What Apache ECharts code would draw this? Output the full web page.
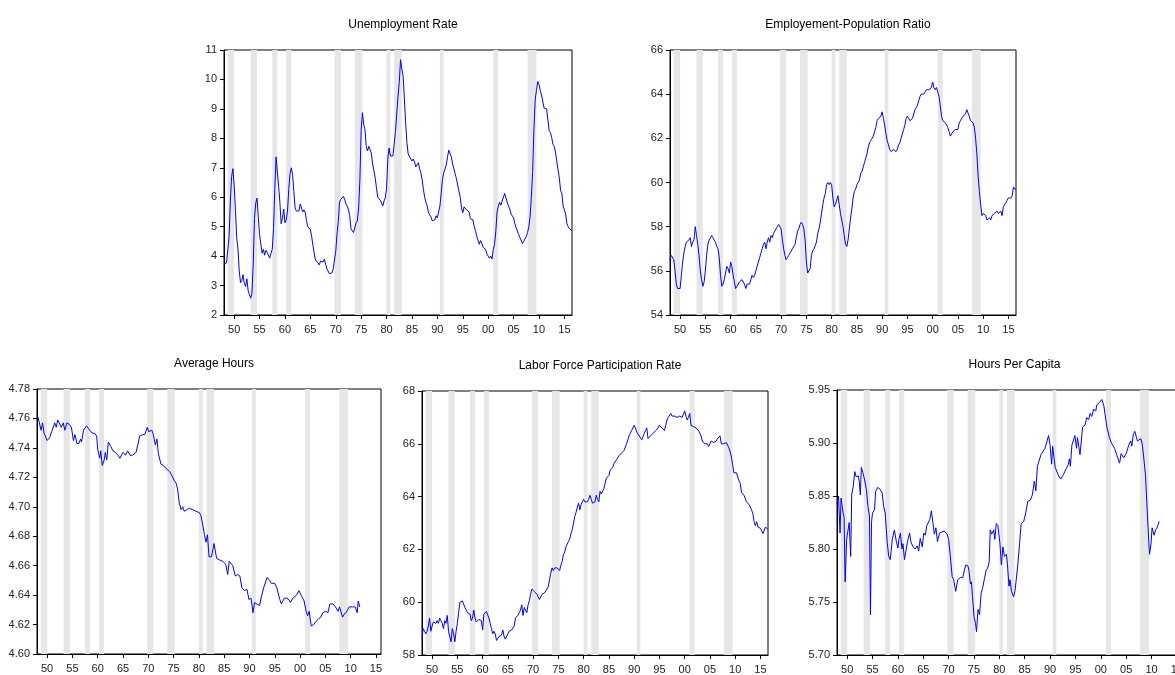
<!DOCTYPE html>
<html>
<head>
<meta charset="utf-8">
<script src="https://cdn.jsdelivr.net/npm/echarts@6/dist/echarts.min.js"></script>
<style>
  html, body { margin: 0; padding: 0; background: #fff; }
  #chart { width: 1175px; height: 675px; }
</style>
</head>
<body>
<div id="chart"></div>
<script>
// quarterly series, first value = 1948Q1
const unemploymentRate = [
  3.73,3.67,3.77,3.83, 4.67,5.87,6.70,6.97, 6.40,5.57,4.63,4.23, 3.50,3.10,3.17,3.37,
  3.07,2.97,3.23,2.83, 2.70,2.57,2.73,3.70, 5.27,5.80,5.97,5.33, 4.73,4.40,4.10,4.23,
  4.03,4.20,4.13,4.13, 3.93,4.10,4.23,4.93, 6.30,7.37,7.33,6.37, 5.83,5.10,5.27,5.60,
  5.13,5.23,5.53,6.27, 6.80,7.00,6.77,6.20, 5.63,5.53,5.57,5.53, 5.77,5.73,5.50,5.57,
  5.47,5.20,5.00,4.97, 4.90,4.67,4.37,4.10, 3.87,3.83,3.77,3.70, 3.83,3.83,3.80,3.90,
  3.73,3.57,3.53,3.40, 3.40,3.43,3.57,3.57, 4.17,4.77,5.17,5.83, 5.93,5.90,6.03,5.93,
  5.77,5.70,5.57,5.37, 4.93,4.93,4.80,4.77, 5.13,5.20,5.63,6.60, 8.27,8.87,8.47,8.30,
  7.73,7.57,7.73,7.77, 7.50,7.13,6.90,6.67, 6.33,6.00,6.03,5.90, 5.87,5.70,5.87,5.97,
  6.30,7.33,7.67,7.40, 7.43,7.40,7.40,8.23, 8.83,9.43,9.90,10.67, 10.37,10.13,9.37,8.53,
  7.87,7.47,7.43,7.30, 7.23,7.30,7.20,7.03, 7.03,7.17,6.97,6.83, 6.60,6.27,6.00,5.83,
  5.70,5.47,5.47,5.33, 5.20,5.23,5.23,5.37, 5.30,5.33,5.70,6.13, 6.60,6.83,6.87,7.10,
  7.37,7.60,7.63,7.37, 7.13,7.07,6.80,6.63, 6.57,6.20,6.00,5.63, 5.47,5.67,5.67,5.57,
  5.53,5.50,5.27,5.33, 5.23,5.00,4.87,4.67, 4.63,4.40,4.53,4.43, 4.30,4.27,4.23,4.07,
  4.03,3.93,4.00,3.90, 4.23,4.40,4.83,5.50, 5.70,5.83,5.73,5.87, 5.87,6.13,6.13,5.83,
  5.70,5.60,5.43,5.43, 5.30,5.10,4.97,4.97, 4.73,4.63,4.63,4.43, 4.50,4.47,4.67,4.80,
  5.00,5.33,6.00,6.87, 8.27,9.30,9.63,9.93, 9.83,9.63,9.47,9.50, 9.03,9.07,9.00,8.63,
  8.27,8.20,8.03,7.80, 7.73,7.53,7.23,6.93, 6.67,6.23,6.13,5.70, 5.57,5.43,5.10,5.00,
  4.93,4.87,4.87
];

const employmentPopRatio = [
  56.5,56.7,56.7,56.5, 56.0,55.4,55.2,55.2, 55.2,55.8,56.4,56.8, 57.1,57.3,57.3,57.4,
  57.5,57.1,57.3,57.4, 58.0,57.6,57.2,56.7, 56.0,55.6,55.3,55.5, 56.0,56.7,57.2,57.4,
  57.5,57.6,57.5,57.4, 57.3,57.1,57.0,56.6, 55.8,55.3,55.4,55.6, 55.9,56.2,56.1,55.9,
  56.4,56.2,55.8,55.5, 55.2,55.3,55.3,55.5, 55.5,55.6,55.6,55.4, 55.2,55.4,55.4,55.4,
  55.6,55.8,55.7,55.8, 56.0,56.2,56.4,56.6, 56.8,57.0,57.2,57.3, 57.0,57.3,57.5,57.3,
  57.6,57.5,57.7,57.8, 57.9,58.0,58.1,58.1, 57.9,57.4,57.0,56.7, 56.5,56.6,56.7,56.8,
  56.9,57.0,57.0,57.2, 57.5,57.8,57.9,58.1, 58.2,58.1,57.9,57.4, 56.4,55.9,56.0,56.1,
  56.7,56.9,57.0,57.0, 57.3,57.7,57.9,58.2, 58.6,59.0,59.3,59.5, 59.9,60.0,59.9,60.0,
  59.9,59.3,58.9,59.0, 59.2,59.4,59.0,58.6, 58.3,58.0,57.6,57.2, 57.1,57.4,57.9,58.4,
  58.8,59.3,59.6,59.7, 59.9,60.0,60.1,60.4, 60.5,60.7,60.9,61.1, 61.3,61.6,61.8,61.9,
  62.0,62.1,62.3,62.5, 62.8,62.9,62.9,63.0, 63.2,62.9,62.6,62.2, 61.9,61.7,61.5,61.4,
  61.4,61.5,61.5,61.4, 61.5,61.7,61.8,62.0, 62.2,62.4,62.6,62.9, 63.0,62.9,62.8,62.8,
  62.9,63.1,63.3,63.4, 63.5,63.7,63.9,64.0, 64.0,64.0,64.1,64.2, 64.2,64.2,64.2,64.3,
  64.55,64.3,64.2,64.3, 64.3,63.9,63.5,63.0, 62.8,62.8,62.7,62.6, 62.5,62.3,62.1,62.2,
  62.3,62.3,62.4,62.4, 62.4,62.7,62.8,62.8, 63.0,63.0,63.1,63.3, 63.3,63.0,62.8,62.8,
  62.7,62.5,62.0,61.3, 60.3,59.6,59.0,58.5, 58.6,58.6,58.5,58.3, 58.3,58.4,58.3,58.5,
  58.5,58.6,58.6,58.7, 58.6,58.6,58.7,58.5, 58.9,59.0,59.1,59.2, 59.3,59.3,59.3,59.4,
  59.8,59.7,59.7
];

const participationRate = [
  58.7,59.0,58.9,58.8, 58.9,59.1,59.4,58.9, 59.1,59.25,59.3,59.2, 59.3,59.2,59.4,59.3,
  59.2,59.0,59.3,59.2, 59.5,58.9,58.7,58.5, 59.0,58.8,58.5,58.9, 59.2,59.6,60.0,60.0,
  60.05,60.0,59.8,59.7, 59.6,59.6,59.55,59.3, 59.4,59.7,59.4,59.25, 59.2,59.35,59.3,59.3,
  58.95,59.55,59.6,59.65, 59.6,59.4,59.2,59.0, 58.8,58.9,58.8,58.55, 58.6,58.7,58.7,58.75,
  58.95,58.7,58.6,58.6, 58.8,58.9,58.9,58.95, 59.0,59.1,59.4,59.45, 59.5,59.6,59.7,59.9,
  59.5,59.8,59.8,59.6, 59.9,60.05,60.3,60.5, 60.45,60.4,60.35,60.3, 60.2,60.1,60.2,60.3,
  60.3,60.35,60.4,60.5, 60.6,60.85,61.1,61.3, 61.2,61.3,61.35,61.3, 61.3,61.2,61.4,61.55,
  61.8,61.9,62.1,62.2, 62.3,62.4,62.6,62.75, 63.0,63.25,63.4,63.6, 63.75,63.5,63.7,63.8,
  63.9,63.8,63.75,63.8, 63.9,64.05,63.9,63.75, 63.8,63.8,64.05,63.9, 63.8,64.2,64.1,64.05,
  64.3,64.5,64.7,64.75, 64.8,65.0,65.0,65.1, 65.25,65.3,65.4,65.45, 65.55,65.6,65.65,65.7,
  65.75,65.8,66.0,66.15, 66.3,66.4,66.5,66.55, 66.7,66.6,66.45,66.4, 66.3,66.25,66.15,66.1,
  66.4,66.5,66.6,66.2, 66.25,66.3,66.35,66.4, 66.45,66.5,66.5,66.6, 66.7,66.65,66.6,66.55,
  66.5,66.7,66.9,67.0, 67.05,67.15,67.05,67.0, 67.05,67.1,67.0,67.0, 67.05,67.1,67.0,67.0,
  67.25,67.05,66.9,67.0, 67.15,66.7,66.7,66.65, 66.65,66.6,66.6,66.5, 66.4,66.3,66.1,66.05,
  66.0,66.0,66.0,65.9, 65.9,66.1,66.05,66.05, 66.1,66.1,66.2,66.25, 66.3,66.0,65.95,66.0,
  66.05,66.05,66.0,65.85, 65.7,65.5,65.2,64.9, 64.85,64.9,64.85,64.6, 64.5,64.15,64.1,64.05,
  64.05,63.8,63.75,63.7, 63.7,63.5,63.35,63.05, 62.9,63.05,62.85,62.85, 62.8,62.7,62.6,62.55,
  62.85,62.9,62.75
];

// [year, value]
const averageHours = [
  [1948.0,4.763],[1948.4,4.758],[1948.8,4.752],[1949.1,4.757],[1949.4,4.750],[1950.0,4.745],
  [1950.5,4.747],[1951.0,4.752],[1951.5,4.757],[1951.8,4.754],[1952.1,4.759],[1952.4,4.760],
  [1952.8,4.754],[1953.2,4.757],[1953.5,4.752],[1953.9,4.757],[1954.4,4.756],[1954.8,4.754],
  [1955.2,4.745],[1955.5,4.749],[1955.9,4.743],[1956.3,4.743],[1956.6,4.746],[1956.8,4.744],
  [1957.2,4.752],[1957.8,4.755],[1958.2,4.753],[1958.9,4.750],[1959.4,4.750],[1959.8,4.748],
  [1960.0,4.739],[1960.4,4.733],[1960.6,4.738],[1960.9,4.728],[1961.2,4.727],[1961.3,4.732],
  [1961.5,4.737],[1961.8,4.732],[1962.1,4.744],[1962.6,4.741],[1963.0,4.738],[1963.5,4.737],
  [1964.0,4.735],[1964.4,4.733],[1965.0,4.737],[1965.5,4.735],[1965.9,4.738],[1966.4,4.735],
  [1966.9,4.735],[1967.6,4.737],[1967.9,4.738],[1968.3,4.748],[1968.9,4.749],[1969.3,4.749],
  [1969.8,4.754],[1970.1,4.751],[1970.4,4.752],[1970.7,4.752],[1971.0,4.749],[1971.4,4.742],
  [1971.7,4.746],[1972.0,4.736],[1972.5,4.729],[1973.0,4.728],[1973.5,4.726],[1973.8,4.725],
  [1974.2,4.724],[1974.7,4.721],[1975.1,4.718],[1975.5,4.716],[1975.8,4.712],[1976.1,4.703],
  [1976.5,4.698],[1976.8,4.700],[1977.1,4.697],[1977.6,4.698],[1978.1,4.699],[1978.8,4.698],
  [1979.4,4.697],[1980.1,4.696],[1980.4,4.694],[1980.7,4.689],[1981.1,4.681],[1981.4,4.676],
  [1981.7,4.681],[1982.0,4.666],[1982.5,4.666],[1983.0,4.675],[1983.5,4.665],[1984.0,4.664],
  [1984.7,4.663],[1985.3,4.661],[1985.7,4.654],[1986.0,4.663],[1986.7,4.660],[1987.2,4.653],
  [1987.7,4.654],[1988.1,4.653],[1988.5,4.645],[1989.0,4.643],[1989.5,4.644],[1989.9,4.637],
  [1990.3,4.638],[1990.7,4.628],[1991.0,4.635],[1991.4,4.634],[1992.0,4.633],[1992.3,4.638],
  [1992.8,4.645],[1993.1,4.644],[1993.5,4.652],[1994.0,4.650],[1994.3,4.648],[1995.0,4.648],
  [1995.4,4.645],[1996.0,4.637],[1996.3,4.634],[1996.9,4.638],[1997.3,4.638],[1997.8,4.637],
  [1998.1,4.635],[1998.6,4.638],[1998.9,4.637],[1999.3,4.640],[1999.8,4.643],[2000.2,4.640],
  [2000.5,4.641],[2000.8,4.636],[2001.2,4.629],[2001.5,4.626],[2001.8,4.629],[2002.2,4.619],
  [2002.7,4.620],[2003.1,4.622],[2003.7,4.624],[2004.1,4.625],[2004.5,4.628],[2005.0,4.629],
  [2005.5,4.628],[2005.9,4.634],[2006.5,4.634],[2007.0,4.632],[2007.5,4.629],[2007.8,4.632],
  [2008.1,4.631],[2008.4,4.625],[2008.7,4.627],[2009.1,4.628],[2009.4,4.630],[2009.7,4.632],
  [2010.4,4.632],[2010.9,4.632],[2011.3,4.628],[2011.5,4.636],[2011.8,4.632]
];

const hoursPerCapita = [
  [1948.0,5.843],[1948.3,5.850],[1948.6,5.815],[1948.8,5.848],[1949.0,5.847],[1949.2,5.834],
  [1949.4,5.830],[1949.6,5.769],[1949.9,5.809],[1950.1,5.810],[1950.4,5.825],[1950.7,5.793],
  [1950.9,5.851],[1951.2,5.859],[1951.5,5.873],[1951.8,5.868],[1952.2,5.869],[1952.4,5.863],
  [1952.6,5.851],[1952.8,5.877],[1953.1,5.872],[1953.4,5.866],[1953.8,5.856],[1954.1,5.840],
  [1954.4,5.831],[1954.6,5.738],[1954.8,5.825],[1955.0,5.834],[1955.4,5.837],[1955.6,5.854],
  [1956.0,5.858],[1956.4,5.857],[1956.9,5.853],[1957.2,5.840],[1957.5,5.834],[1957.9,5.806],
  [1958.2,5.793],[1958.5,5.790],[1958.9,5.809],[1959.3,5.818],[1959.7,5.807],[1960.0,5.801],
  [1960.2,5.809],[1960.5,5.815],[1960.8,5.800],[1961.0,5.805],[1961.3,5.790],[1961.6,5.789],
  [1961.9,5.807],[1962.3,5.815],[1962.6,5.806],[1963.0,5.802],[1963.4,5.800],[1963.8,5.803],
  [1964.1,5.798],[1964.4,5.810],[1964.8,5.802],[1965.1,5.815],[1965.4,5.813],[1965.7,5.822],
  [1966.3,5.828],[1966.6,5.836],[1966.9,5.825],[1967.2,5.814],[1967.5,5.820],[1967.8,5.807],
  [1968.2,5.815],[1968.7,5.816],[1969.1,5.817],[1969.7,5.814],[1970.0,5.809],[1970.3,5.795],
  [1970.7,5.774],[1971.0,5.771],[1971.4,5.760],[1971.8,5.771],[1972.3,5.773],[1972.8,5.773],
  [1973.1,5.780],[1973.4,5.785],[1973.8,5.784],[1974.0,5.780],[1974.3,5.767],[1974.5,5.769],
  [1974.7,5.756],[1975.0,5.736],[1975.3,5.730],[1975.5,5.722],[1975.8,5.743],[1976.1,5.738],
  [1976.4,5.758],[1976.7,5.763],[1977.1,5.773],[1977.4,5.780],[1977.7,5.782],[1978.0,5.788],
  [1978.2,5.818],[1978.5,5.814],[1978.9,5.818],[1979.1,5.809],[1979.4,5.824],[1979.7,5.822],
  [1980.1,5.806],[1980.4,5.785],[1980.7,5.802],[1981.0,5.793],[1981.4,5.795],[1981.6,5.785],
  [1981.9,5.765],[1982.1,5.771],[1982.4,5.760],[1982.8,5.755],[1983.1,5.761],[1983.6,5.783],
  [1984.0,5.806],[1984.3,5.824],[1984.8,5.826],[1985.2,5.834],[1985.6,5.845],[1986.1,5.846],
  [1986.5,5.851],[1986.9,5.864],[1987.2,5.855],[1987.5,5.878],[1988.2,5.889],[1988.5,5.888],
  [1989.0,5.895],[1989.3,5.900],[1989.7,5.907],[1990.0,5.898],[1990.3,5.880],[1990.5,5.897],
  [1991.0,5.877],[1991.6,5.870],[1992.1,5.866],[1992.6,5.870],[1993.2,5.876],[1993.6,5.880],
  [1993.8,5.885],[1994.0,5.878],[1994.3,5.898],[1994.6,5.898],[1994.9,5.907],[1995.2,5.895],
  [1995.4,5.905],[1995.9,5.889],[1996.4,5.915],[1996.9,5.917],[1997.2,5.924],[1997.6,5.922],
  [1997.9,5.928],[1998.2,5.925],[1998.6,5.932],[1999.0,5.930],[1999.2,5.936],[1999.7,5.938],
  [2000.2,5.941],[2000.6,5.935],[2001.2,5.915],[2001.7,5.905],[2002.1,5.900],[2002.3,5.901],
  [2002.7,5.895],[2003.2,5.888],[2003.7,5.881],[2004.0,5.890],[2004.5,5.886],[2005.0,5.890],
  [2005.5,5.898],[2005.9,5.902],[2006.1,5.897],[2006.4,5.908],[2006.7,5.911],[2007.2,5.902],
  [2007.9,5.904],[2008.2,5.898],[2008.8,5.870],[2009.2,5.830],[2009.6,5.795],[2009.9,5.805],
  [2010.1,5.820],[2010.5,5.813],[2010.8,5.818],[2011.1,5.820],[2011.5,5.826]
];

// NBER recessions, peak quarter start to trough quarter end
const recessions = [
  [1948.75,1950.0],[1953.25,1954.5],[1957.5,1958.5],[1960.25,1961.25],[1969.75,1971.0],
  [1973.75,1975.25],[1980.0,1980.75],[1981.5,1983.0],[1990.5,1991.25],[2001.0,2002.0],
  [2007.75,2009.5]
];

const yearTicks = [1950,1955,1960,1965,1970,1975,1980,1985,1990,1995,2000,2005,2010,2015];

function quarterly(arr) {
  return arr.map((v, i) => [1948 + i / 4, v]);
}

const panels = [
  { title: 'Unemployment Rate', left: 224, top: 50, width: 348, height: 265,
    yMin: 2, yMax: 11, yStep: 1, dec: 0, xMax: 2016.5, data: quarterly(unemploymentRate) },
  { title: 'Employement-Population Ratio', left: 670, top: 50, width: 346, height: 265,
    yMin: 54, yMax: 66, yStep: 2, dec: 0, xMax: 2016.5, data: quarterly(employmentPopRatio) },
  { title: 'Average Hours', left: 37, top: 389, width: 344, height: 265,
    yMin: 4.60, yMax: 4.78, yStep: 0.02, dec: 2, xMax: 2016, data: averageHours },
  { title: 'Labor Force Participation Rate', left: 422, top: 391, width: 346, height: 264,
    yMin: 58, yMax: 68, yStep: 2, dec: 0, xMax: 2016.5, data: quarterly(participationRate) },
  { title: 'Hours Per Capita', left: 837, top: 390, width: 345, height: 265,
    yMin: 5.70, yMax: 5.95, yStep: 0.05, dec: 2, xMax: 2016, data: hoursPerCapita }
];

const font = "'Liberation Sans', Arial, sans-serif";
const option = {
  animation: false,
  backgroundColor: '#fff',
  title: [], grid: [], xAxis: [], yAxis: [], series: []
};

panels.forEach((p, i) => {
  option.title.push({
    text: p.title,
    left: p.left + p.width / 2,
    top: p.top - 36,
    textAlign: 'center',
    textStyle: { fontFamily: font, fontSize: 12, fontWeight: 'normal', color: '#000' }
  });
  option.grid.push({
    left: p.left, top: p.top, width: p.width, height: p.height,
    outerBoundsMode: 'none',
    show: true, borderColor: '#000', borderWidth: 1, backgroundColor: 'transparent'
  });
  option.xAxis.push({
    type: 'value', gridIndex: i, min: 1948, max: p.xMax,
    splitLine: { show: false },
    axisLine: { show: true, lineStyle: { color: '#000', width: 1 } },
    axisTick: { show: true, length: 4, customValues: yearTicks, lineStyle: { color: '#000' } },
    axisLabel: {
      customValues: yearTicks, margin: 9, color: '#222', fontFamily: font, fontSize: 11,
      formatter: v => String(Math.round(v) % 100).padStart(2, '0')
    }
  });
  option.yAxis.push({
    type: 'value', gridIndex: i, min: p.yMin, max: p.yMax, interval: p.yStep,
    splitLine: { show: false },
    axisLine: { show: true, lineStyle: { color: '#000', width: 1 } },
    axisTick: { show: true, length: 4, lineStyle: { color: '#000' } },
    axisLabel: {
      margin: 7, color: '#222', fontFamily: font, fontSize: 11,
      formatter: v => v.toFixed(p.dec)
    }
  });
  option.series.push({
    type: 'line', xAxisIndex: i, yAxisIndex: i, data: [], z: 1, silent: true,
    markArea: {
      silent: true,
      itemStyle: { color: '#e6e6e6' },
      data: recessions.map(r => [{ xAxis: r[0] }, { xAxis: r[1] }])
    }
  });
  option.series.push({
    type: 'line', xAxisIndex: i, yAxisIndex: i, data: p.data, z: 3,
    showSymbol: false, symbol: 'none',
    lineStyle: { color: '#0000ff', width: 1 }
  });
});

echarts.init(document.getElementById('chart'), null, { renderer: 'canvas' }).setOption(option);
</script>
</body>
</html>
